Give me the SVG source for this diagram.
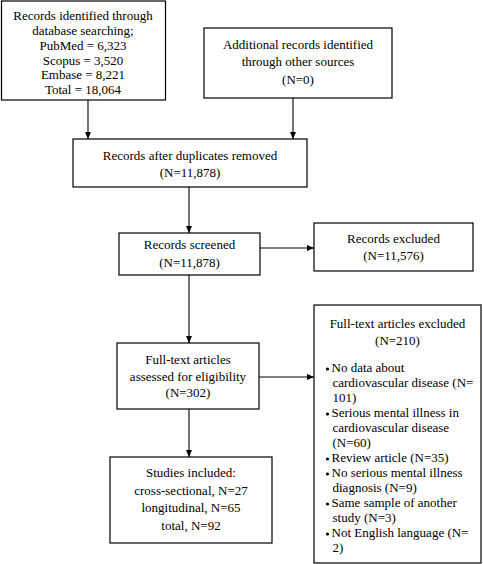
<svg xmlns="http://www.w3.org/2000/svg" width="483" height="564" viewBox="0 0 483 564">
<defs>
<marker id="ah" markerWidth="8" markerHeight="8" refX="7" refY="4" orient="auto" markerUnits="userSpaceOnUse">
<path d="M0,1 L7,4 L0,7 Z" fill="#000"/>
</marker>
<style>
.box{fill:#fff;stroke:#000;stroke-width:1.2}
text{font-family:"Liberation Serif","Times New Roman",serif;font-size:13px;fill:#000}
.c{text-anchor:middle}
.ln{stroke:#000;stroke-width:1.1;fill:none}
</style>
</defs>
<rect width="483" height="564" fill="#fff"/>
<g id="n1">
<rect class="box" x="1.5" y="1" width="164" height="99"/>
<text class="c" x="83" y="20">Records identified through</text>
<text class="c" x="83" y="35">database searching;</text>
<text class="c" x="83" y="49.5">PubMed = 6,323</text>
<text class="c" x="83" y="64.5">Scopus = 3,520</text>
<text class="c" x="83" y="79">Embase = 8,221</text>
<text class="c" x="83" y="94">Total = 18,064</text>
</g>
<g id="n2">
<rect class="box" x="204" y="28" width="188" height="70"/>
<text class="c" x="298" y="49">Additional records identified</text>
<text class="c" x="298" y="66">through other sources</text>
<text class="c" x="298" y="84">(N=0)</text>
</g>
<g id="n3">
<rect class="box" x="73" y="139" width="234" height="48"/>
<text class="c" x="190" y="160">Records after duplicates removed</text>
<text class="c" x="190" y="177">(N=11,878)</text>
</g>
<g id="n4">
<rect class="box" x="119" y="233" width="141" height="42"/>
<text class="c" x="189.5" y="249">Records screened</text>
<text class="c" x="189.5" y="267">(N=11,878)</text>
</g>
<g id="n5">
<rect class="box" x="314" y="223" width="159" height="48"/>
<text class="c" x="393.5" y="243">Records excluded</text>
<text class="c" x="393.5" y="260">(N=11,576)</text>
</g>
<g id="n6">
<rect class="box" x="117" y="343" width="142" height="66"/>
<text class="c" x="188" y="364">Full-text articles</text>
<text class="c" x="188" y="381">assessed for eligibility</text>
<text class="c" x="188" y="397">(N=302)</text>
</g>
<g id="n7">
<rect class="box" x="314" y="305" width="167" height="258"/>
<text class="c" x="397.5" y="328">Full-text articles excluded</text>
<text class="c" x="397.5" y="345">(N=210)</text>
<g fill="#000">
<circle cx="327.5" cy="369" r="1.6"/>
<circle cx="327.5" cy="414" r="1.6"/>
<circle cx="327.5" cy="459" r="1.6"/>
<circle cx="327.5" cy="474" r="1.6"/>
<circle cx="327.5" cy="504" r="1.6"/>
<circle cx="327.5" cy="534" r="1.6"/>
</g>
<text x="331.5" y="372">No data about</text>
<text x="332.5" y="387">cardiovascular disease (N=</text>
<text x="332.5" y="402">101)</text>
<text x="331.5" y="417">Serious mental illness in</text>
<text x="332.5" y="432">cardiovascular disease</text>
<text x="332.5" y="447">(N=60)</text>
<text x="331.5" y="462">Review article (N=35)</text>
<text x="331.5" y="477">No serious mental illness</text>
<text x="332.5" y="492">diagnosis (N=9)</text>
<text x="331.5" y="507">Same sample of another</text>
<text x="332.5" y="522">study (N=3)</text>
<text x="331.5" y="537">Not English language (N=</text>
<text x="332.5" y="552">2)</text>
</g>
<g id="n8">
<rect class="box" x="110" y="457" width="162" height="86"/>
<text class="c" x="191" y="477">Studies included:</text>
<text class="c" x="191" y="495">cross-sectional, N=27</text>
<text class="c" x="191" y="512">longitudinal, N=65</text>
<text class="c" x="191" y="530">total, N=92</text>
</g>
<g id="connectors">
<line class="ln" x1="88" y1="100" x2="88" y2="139" marker-end="url(#ah)"/>
<line class="ln" x1="293" y1="98" x2="293" y2="139" marker-end="url(#ah)"/>
<line class="ln" x1="189" y1="187" x2="189" y2="233" marker-end="url(#ah)"/>
<line class="ln" x1="260" y1="248" x2="314" y2="248" marker-end="url(#ah)"/>
<line class="ln" x1="189" y1="275" x2="189" y2="343" marker-end="url(#ah)"/>
<line class="ln" x1="259" y1="377" x2="314" y2="377" marker-end="url(#ah)"/>
<line class="ln" x1="189" y1="409" x2="189" y2="457" marker-end="url(#ah)"/>
</g>
</svg>
